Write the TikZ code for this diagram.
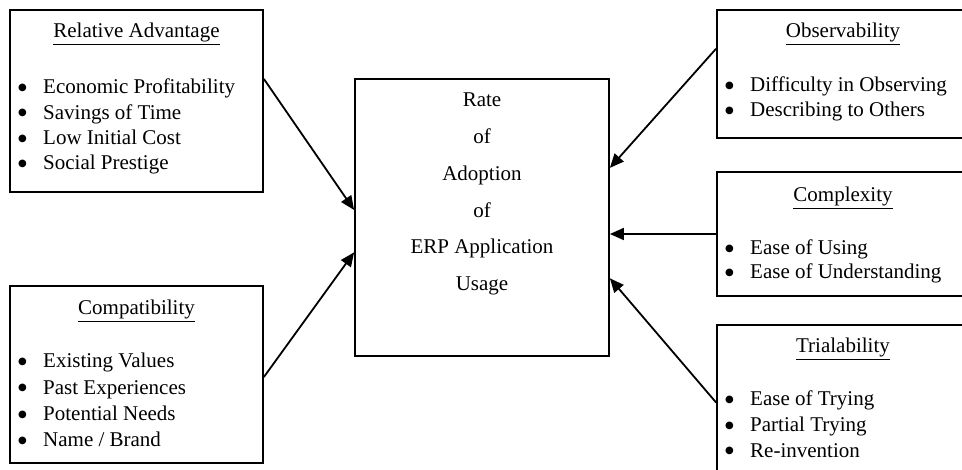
\documentclass[tikz,border=0pt]{standalone}
\usepackage{fontspec}
\setmainfont{Liberation Serif}
\newfontfamily\dotfont{DejaVu Sans}
\usetikzlibrary{arrows.meta,calc}

\newcommand{\bul}[1]{\makebox[25pt][l]{\raisebox{0.35ex}{\dotfont\fontsize{10}{10}\selectfont ●}}#1}

\begin{document}
\begin{tikzpicture}[x=1pt,y=-1pt,
    every node/.style={font=\fontsize{21}{25}\selectfont},
    factor/.style={draw,line width=1.8pt,inner sep=0pt},
    head/.style={anchor=base,inner sep=0pt},
    point/.style={anchor=base west,inner sep=0pt},
    feed/.style={line width=1.8pt,-{Triangle[length=14pt,width=12pt]}}]
    \useasboundingbox (0,0) rectangle (962,470);
    \clip (0,0) rectangle (962,470);
    % Boxes
    \node[factor,minimum width=253pt,minimum height=182pt] (ra) at (136.5,101) {};
    \node[factor,minimum width=253pt,minimum height=177pt] (cp) at (136.5,374.5) {};
    \node[factor,minimum width=254pt,minimum height=277pt] (rate) at (482,217.5) {};
    \node[factor,minimum width=252pt,minimum height=128pt] (ob) at (843,74) {};
    \node[factor,minimum width=252pt,minimum height=124pt] (cx) at (843,234) {};
    \node[factor,minimum width=252pt,minimum height=155pt] (tr) at (843,402.5) {};
    % Centre
    \foreach \w [count=\i from 0] in {Rate,of,Adoption,of,ERP Application,Usage}
        \node[head] (rate\i) at (482,107+36.7*\i) {\w};
    % Left side
    \node[head] (raT) at (136.5,38) {\underline{Relative Advantage}};
    \foreach \t [count=\i from 0] in {Economic Profitability,Savings of Time,Low Initial Cost,Social Prestige}
        \node[point] (ra\i) at (18,94+25.3*\i) {\bul{\t}};
    \node[head] (cpT) at (136.5,315) {\underline{Compatibility}};
    \foreach \t [count=\i from 0] in {Existing Values,Past Experiences,Potential Needs,Name / Brand}
        \node[point] (cp\i) at (18,368+26.3*\i) {\bul{\t}};
    % Right side
    \node[head] (obT) at (843,38) {\underline{Observability}};
    \foreach \t [count=\i from 0] in {Difficulty in Observing,Describing to Others}
        \node[point] (ob\i) at (725,92+25*\i) {\bul{\t}};
    \node[head] (cxT) at (843,202) {\underline{Complexity}};
    \foreach \t [count=\i from 0] in {Ease of Using,Ease of Understanding}
        \node[point] (cx\i) at (725,255+24*\i) {\bul{\t}};
    \node[head] (trT) at (843,353) {\underline{Trialability}};
    \foreach \t [count=\i from 0] in {Ease of Trying,Partial Trying,Re-invention}
        \node[point] (tr\i) at (725,406+25.5*\i) {\bul{\t}};
    % Arrows
    \draw[feed] ($(ra.north east)!.38!(ra.south east)$) -- ($(rate.north west)!.473!(rate.south west)$);
    \draw[feed] ($(cp.north east)!.514!(cp.south east)$) -- ($(rate.north west)!.625!(rate.south west)$);
    \draw[feed] ($(ob.north west)!.305!(ob.south west)$) -- ($(rate.north east)!.322!(rate.south east)$);
    \draw[feed] (cx.west) -- (cx.west -| rate.east);
    \draw[feed] (tr.west) -- ($(rate.north east)!.718!(rate.south east)$);
\end{tikzpicture}
\end{document}
